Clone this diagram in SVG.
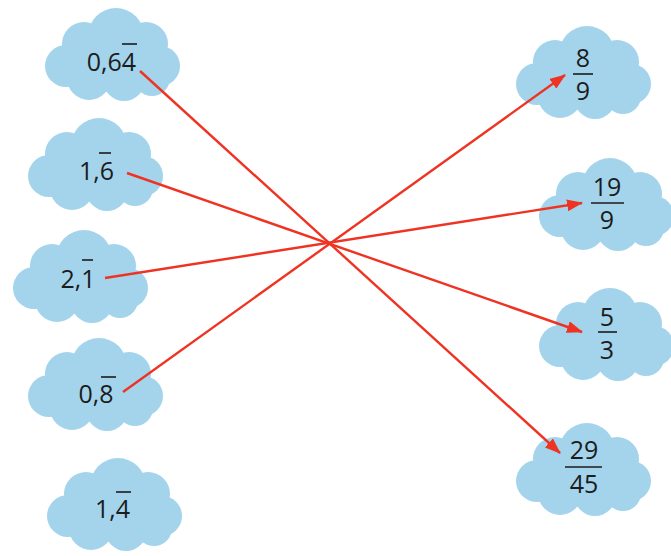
<svg xmlns="http://www.w3.org/2000/svg" width="671" height="556" viewBox="0 0 671 556">
<style>
.cloud{fill:#a3d4ec}
.t{font-family:"Open Sans","Noto Sans",sans-serif;font-size:25px;fill:#1c1c1c;text-anchor:middle}
.bar{stroke:#1c1c1c;stroke-width:1.6}
.c{stroke:#ef3322;stroke-width:2.4;fill:none;marker-end:url(#ah)}
</style>
<defs>
<marker id="ah" markerUnits="userSpaceOnUse" markerWidth="16" markerHeight="12" refX="15" refY="6" orient="auto">
<path d="M0,0 L16,6 L0,12 Z" fill="#ef3322"/>
</marker>
<g id="cl" class="cloud">
<ellipse cx="68" cy="58" rx="52" ry="28"/>
<circle cx="72" cy="30" r="28"/>
<circle cx="40" cy="38" r="22"/>
<circle cx="102" cy="38" r="22"/>
<circle cx="22" cy="60" r="21"/>
<circle cx="116" cy="60" r="20"/>
<circle cx="45" cy="72" r="22"/>
<circle cx="80" cy="74" r="21"/>
<circle cx="108" cy="72" r="18"/>
</g>
</defs>
<rect width="671" height="556" fill="#ffffff"/>
<g id="n1"><use href="#cl" x="44" y="6"/><text class="t" x="111.5" y="71">0,64</text><line class="bar" x1="122" y1="44" x2="137" y2="44"/></g>
<g id="n2"><use href="#cl" x="27" y="116"/><text class="t" x="96.5" y="180">1,6</text><line class="bar" x1="99" y1="153" x2="111" y2="153"/></g>
<g id="n3"><use href="#cl" x="12" y="228"/><text class="t" x="78" y="288">2,1</text><line class="bar" x1="82" y1="260" x2="93" y2="260"/></g>
<g id="n4"><use href="#cl" x="27" y="336"/><text class="t" x="96" y="403">0,8</text><line class="bar" x1="101" y1="377" x2="116" y2="377"/></g>
<g id="n5"><use href="#cl" x="46" y="456"/><text class="t" x="112.5" y="518">1,4</text><line class="bar" x1="116" y1="492" x2="131" y2="492"/></g>
<g id="m1"><use href="#cl" x="515" y="24"/><text class="t" x="583" y="67">8</text><line class="bar" x1="573" y1="74" x2="593" y2="74"/><text class="t" x="583" y="100">9</text></g>
<g id="m2"><use href="#cl" x="538" y="156"/><text class="t" x="607" y="196">19</text><line class="bar" x1="591" y1="203" x2="624" y2="203"/><text class="t" x="607" y="229">9</text></g>
<g id="m3"><use href="#cl" x="538" y="286"/><text class="t" x="607" y="326">5</text><line class="bar" x1="598" y1="332" x2="617" y2="332"/><text class="t" x="607" y="359">3</text></g>
<g id="m4"><use href="#cl" x="515" y="421"/><text class="t" x="584" y="459">29</text><line class="bar" x1="565" y1="467" x2="602" y2="467"/><text class="t" x="584" y="493">45</text></g>
<g id="connectors">
<line class="c" x1="140" y1="71" x2="560" y2="453"/>
<line class="c" x1="127" y1="173" x2="582" y2="332"/>
<line class="c" x1="105" y1="278" x2="582" y2="203"/>
<line class="c" x1="123" y1="392" x2="565" y2="75"/>
</g>
</svg>
